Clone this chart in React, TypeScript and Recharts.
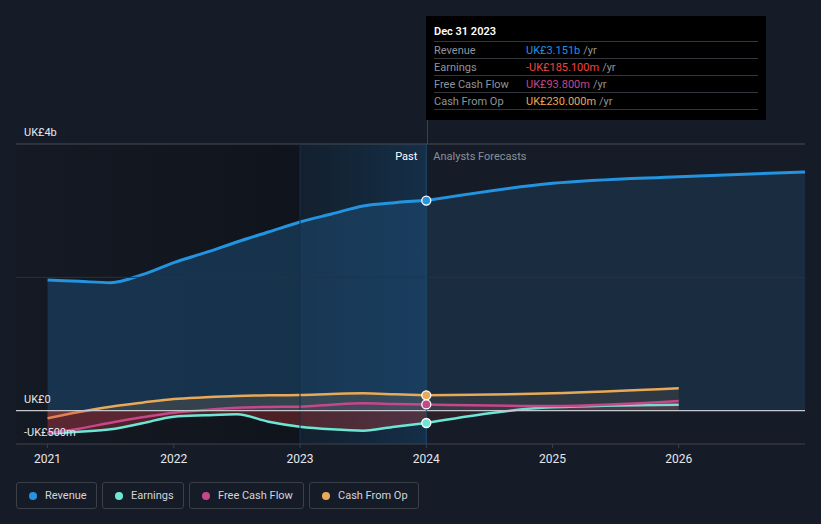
import React from 'react';
import {
  ComposedChart,
  Area,
  XAxis,
  YAxis,
  ReferenceLine,
  ReferenceArea,
  ReferenceDot,
} from 'recharts';

// ---- data (UK£ billions) ----
const pastYears = [2021, 2021.25, 2021.5, 2021.75, 2022, 2022.25, 2022.5, 2022.75, 2023, 2023.25, 2023.5, 2023.75, 2024];
const revenuePast = [1.96, 1.94, 1.92, 2.04, 2.22, 2.37, 2.53, 2.68, 2.83, 2.95, 3.07, 3.12, 3.151];
const earningsPast = [-0.34, -0.315, -0.28, -0.19, -0.09, -0.07, -0.055, -0.165, -0.24, -0.28, -0.3, -0.24, -0.1851];
const fcfPast = [-0.34, -0.27, -0.18, -0.1, -0.03, 0.01, 0.045, 0.055, 0.06, 0.09, 0.11, 0.1, 0.0938];
const cfoPast = [-0.115, -0.02, 0.06, 0.12, 0.175, 0.2, 0.22, 0.23, 0.235, 0.25, 0.26, 0.245, 0.23];

const forecastYears = [2024, 2025, 2026, 2027];
const revenueForecast = [3.151, 3.41, 3.51, 3.58];
const earningsForecast = [-0.1851, 0.05, 0.09, null];
const fcfForecast = [0.0938, 0.07, 0.145, null];
const cfoForecast = [0.23, 0.26, 0.335, null];

const xTicks = [2021, 2022, 2023, 2024, 2025, 2026];
const yLabels = [
  { value: 4, label: 'UK£4b' },
  { value: 0, label: 'UK£0' },
  { value: -0.5, label: '-UK£500m' },
];

const tooltipRows = [
  { name: 'Revenue', value: 'UK£3.151b', color: '#2394e0' },
  { name: 'Earnings', value: '-UK£185.100m', color: '#f0443e' },
  { name: 'Free Cash Flow', value: 'UK£93.800m', color: '#c6478a' },
  { name: 'Cash From Op', value: 'UK£230.000m', color: '#e8a958' },
];

const legendItems = [
  { name: 'Revenue', color: '#2394e0', width: 81 },
  { name: 'Earnings', color: '#6ee6d6', width: 82 },
  { name: 'Free Cash Flow', color: '#c6478a', width: 115 },
  { name: 'Cash From Op', color: '#e8a958', width: 110 },
];

const COLORS = {
  revenue: '#2394e0',
  earnings: '#6ee6d6',
  fcf: '#c6478a',
  cfo: '#e8a958',
};

type Row = { x: number; [k: string]: number | null | undefined };
const rowsMap = new Map<number, Row>();
pastYears.forEach((x, i) => {
  const r = rowsMap.get(x) || { x };
  r.revP = revenuePast[i];
  r.earnP = earningsPast[i];
  r.fcfP = fcfPast[i];
  r.cfoP = cfoPast[i];
  rowsMap.set(x, r);
});
forecastYears.forEach((x, i) => {
  const r = rowsMap.get(x) || { x };
  r.revF = revenueForecast[i];
  r.earnF = earningsForecast[i];
  r.fcfF = fcfForecast[i];
  r.cfoF = cfoForecast[i];
  rowsMap.set(x, r);
});
const data = Array.from(rowsMap.values()).sort((a, b) => a.x - b.x);

const FONT = 'Roboto, "Open Sans", "DejaVu Sans", sans-serif';

const yLabel = (text: string) => (props: any) => {
  const vb = props.viewBox || {};
  return (
    <text x={(vb.x || 0) + 8} y={(vb.y || 0) - 8} fill="#e6e8eb" fontSize={11} fontFamily={FONT}>
      {text}
    </text>
  );
};

const pastLabel = (props: any) => {
  const vb = props.viewBox || {};
  const x = vb.x || 0;
  const y = (vb.y || 0) + 16;
  return (
    <g>
      <text x={x - 9} y={y} textAnchor="end" fill="#ffffff" fontSize={11} fontFamily={FONT}>
        Past
      </text>
      <text x={x + 7} y={y} textAnchor="start" fill="#8a9099" fontSize={11} fontFamily={FONT}>
        Analysts Forecasts
      </text>
    </g>
  );
};

export default function App() {
  const lastIdx = pastYears.length - 1;
  return (
    <div
      style={{
        position: 'fixed',
        left: 0,
        top: 0,
        width: 821,
        height: 524,
        background: '#161c27',
        fontFamily: FONT,
        overflow: 'hidden',
      }}
    >
      <ComposedChart width={821} height={524} data={data} margin={{ top: 144, right: 16, bottom: 50, left: 16 }}>
        <defs>
          <linearGradient id="darkPast" x1="0" y1="0" x2="1" y2="0">
            <stop offset="0%" stopColor="#0f131b" stopOpacity={0.3} />
            <stop offset="100%" stopColor="#0f131b" stopOpacity={0.9} />
          </linearGradient>
          <linearGradient id="lastYear" x1="0" y1="0" x2="1" y2="0">
            <stop offset="0%" stopColor="#13202e" stopOpacity={0.9} />
            <stop offset="100%" stopColor="#14304a" stopOpacity={0.95} />
          </linearGradient>
        </defs>
        <XAxis
          dataKey="x"
          type="number"
          domain={[2020.75, 2027]}
          ticks={xTicks}
          allowDataOverflow
          height={30}
          axisLine={false}
          tickLine={{ stroke: '#3a3f48' }}
          tickSize={4}
          tickMargin={6}
          tick={{ fill: '#e6e8eb', fontSize: 12, fontFamily: FONT }}
        />
        <YAxis hide type="number" domain={[-0.5, 4]} allowDataOverflow />
        <ReferenceArea x1={2020.75} x2={2023} y1={-0.5} y2={4} fill="url(#darkPast)" fillOpacity={1} stroke="none" />
        <ReferenceArea x1={2023} x2={2024} y1={-0.5} y2={4} fill="url(#lastYear)" fillOpacity={1} stroke="none" />
        <ReferenceLine y={2} stroke="#2c323c" strokeWidth={1} />
        <ReferenceLine y={4} stroke="#464b54" strokeWidth={1} label={yLabel(yLabels[0].label)} />
        <ReferenceLine y={-0.5} stroke="#3e434c" strokeWidth={1} label={yLabel(yLabels[2].label)} />
        <ReferenceLine x={2023} stroke="#173049" strokeWidth={1} />

        <Area type="monotone" dataKey="revP" stroke={COLORS.revenue} strokeWidth={3} fill="#1e4a72" fillOpacity={0.55} isAnimationActive={false} dot={false} activeDot={false} />
        <Area type="monotone" dataKey="revF" stroke={COLORS.revenue} strokeWidth={3} fill="#1c3b59" fillOpacity={0.5} isAnimationActive={false} dot={false} activeDot={false} />

        <Area type="monotone" dataKey="cfoP" stroke={COLORS.cfo} strokeWidth={2.5} fill={COLORS.cfo} fillOpacity={0.14} isAnimationActive={false} dot={false} activeDot={false} />
        <Area type="monotone" dataKey="cfoF" stroke={COLORS.cfo} strokeWidth={2.5} fill={COLORS.cfo} fillOpacity={0.1} isAnimationActive={false} dot={false} activeDot={false} />
        <Area type="monotone" dataKey="earnP" stroke={COLORS.earnings} strokeWidth={2.5} fill="#d8403a" fillOpacity={0.3} isAnimationActive={false} dot={false} activeDot={false} />
        <Area type="monotone" dataKey="earnF" stroke={COLORS.earnings} strokeWidth={2.5} fill="#d8403a" fillOpacity={0.12} isAnimationActive={false} dot={false} activeDot={false} />
        <Area type="monotone" dataKey="fcfP" stroke={COLORS.fcf} strokeWidth={2.5} fill={COLORS.fcf} fillOpacity={0.1} isAnimationActive={false} dot={false} activeDot={false} />
        <Area type="monotone" dataKey="fcfF" stroke={COLORS.fcf} strokeWidth={2.5} fill={COLORS.fcf} fillOpacity={0.08} isAnimationActive={false} dot={false} activeDot={false} />

        <ReferenceLine y={0} stroke="#c4c7cc" strokeWidth={1.2} label={yLabel(yLabels[1].label)} />
        <ReferenceLine x={2024} stroke="#1f4a6e" strokeWidth={1} label={pastLabel} />

        <ReferenceDot x={2024} y={revenuePast[lastIdx]} r={4.5} fill={COLORS.revenue} stroke="#ffffff" strokeWidth={1.3} />
        <ReferenceDot x={2024} y={cfoPast[lastIdx]} r={4.5} fill={COLORS.cfo} stroke="#ffffff" strokeWidth={1.3} />
        <ReferenceDot x={2024} y={fcfPast[lastIdx]} r={4.5} fill={COLORS.fcf} stroke="#ffffff" strokeWidth={1.3} />
        <ReferenceDot x={2024} y={earningsPast[lastIdx]} r={4.5} fill={COLORS.earnings} stroke="#ffffff" strokeWidth={1.3} />
      </ComposedChart>

      {/* cursor line above plot */}
      <div style={{ position: 'absolute', left: 426.5, top: 16, width: 1, height: 128, background: '#1f4a6e' }} />

      {/* tooltip box */}
      <div
        style={{
          position: 'absolute',
          left: 426,
          top: 16,
          width: 340,
          height: 104,
          background: '#000000',
          boxSizing: 'border-box',
          padding: '0 8px',
        }}
      >
        <div style={{ height: 25, lineHeight: '31px', color: '#ffffff', fontSize: 11, fontWeight: 600 }}>Dec 31 2023</div>
        {tooltipRows.map((r) => (
          <div
            key={r.name}
            style={{
              height: 16,
              borderTop: '1px solid #33373d',
              display: 'flex',
              alignItems: 'center',
              fontSize: 11,
            }}
          >
            <span style={{ width: 92, color: '#8e949b' }}>{r.name}</span>
            <span style={{ color: r.color }}>{r.value}</span>
            <span style={{ color: '#8e949b', marginLeft: 3 }}>/yr</span>
          </div>
        ))}
        <div style={{ borderTop: '1px solid #33373d' }} />
      </div>

      {/* legend */}
      <div style={{ position: 'absolute', left: 16, top: 482, display: 'flex', gap: 5 }}>
        {legendItems.map((l) => (
          <div
            key={l.name}
            style={{
              width: l.width,
              height: 27,
              boxSizing: 'border-box',
              border: '1px solid #3a3f48',
              borderRadius: 3,
              display: 'flex',
              alignItems: 'center',
              paddingLeft: 12,
              fontSize: 11,
              color: '#d2d5da',
            }}
          >
            <span style={{ width: 8, height: 8, borderRadius: 4, background: l.color, display: 'inline-block', marginRight: 8 }} />
            {l.name}
          </div>
        ))}
      </div>
    </div>
  );
}
